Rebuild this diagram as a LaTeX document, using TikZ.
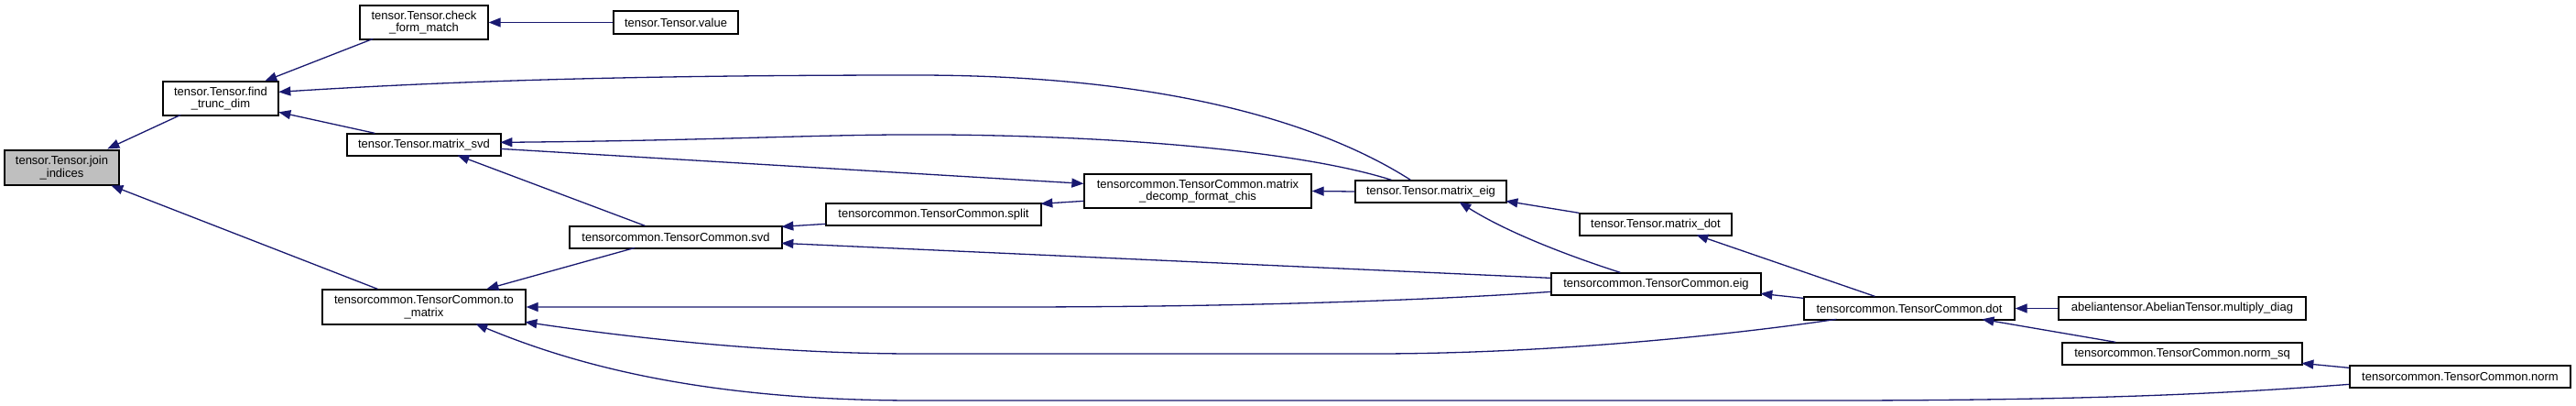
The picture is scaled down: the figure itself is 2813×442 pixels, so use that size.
\documentclass[tikz,border=0pt]{standalone}
\usepackage{fontspec}
\setmainfont{Liberation Sans}
\usetikzlibrary{arrows.meta,calc}
\definecolor{edgeblue}{HTML}{191970}
\definecolor{nodegray}{HTML}{BFBFBF}
\begin{document}
\begin{tikzpicture}[x=1pt,y=-1pt,
  box/.style={draw=black, line width=1.3pt, fill=white, inner sep=0pt, align=center,
              font=\fontsize{13}{13.5}\selectfont},
  edge/.style={draw=edgeblue, line width=1.3pt, {Triangle[length=13pt,width=10pt]}-}]
\fill[white] (0,0) rectangle (2813,442);
\useasboundingbox (0,0) rectangle (2813,442);

% nodes
\node[box, fill=nodegray, minimum width=125pt, minimum height=38pt] (join) at (67.5,183) {tensor.Tensor.join\\\_indices};
\node[box, minimum width=126pt, minimum height=37pt] (find) at (241,107.5) {tensor.Tensor.find\\\_trunc\_dim};
\node[box, minimum width=140pt, minimum height=37pt] (check) at (463,24.5) {tensor.Tensor.check\\\_form\_match};
\node[box, minimum width=136pt, minimum height=25pt] (value) at (738,24.5) {tensor.Tensor.value};
\node[box, minimum width=168pt, minimum height=24pt] (msvd) at (463,158) {tensor.Tensor.matrix\_svd};
\node[box, minimum width=222pt, minimum height=38pt] (tom) at (463,335) {tensorcommon.TensorCommon.to\\\_matrix};
\node[box, minimum width=232pt, minimum height=24pt] (svd) at (738,259) {tensorcommon.TensorCommon.svd};
\node[box, minimum width=235pt, minimum height=24pt] (split) at (1019.5,234) {tensorcommon.TensorCommon.split};
\node[box, minimum width=248pt, minimum height=37pt] (decomp) at (1308,208.5) {tensorcommon.TensorCommon.matrix\\\_decomp\_format\_chis};
\node[box, minimum width=165pt, minimum height=24pt] (meig) at (1562.5,209) {tensor.Tensor.matrix\_eig};
\node[box, minimum width=166pt, minimum height=24pt] (mdot) at (1808,245) {tensor.Tensor.matrix\_dot};
\node[box, minimum width=229pt, minimum height=24pt] (eig) at (1808.5,310) {tensorcommon.TensorCommon.eig};
\node[box, minimum width=230pt, minimum height=25pt] (dot) at (2085,336.5) {tensorcommon.TensorCommon.dot};
\node[box, minimum width=270pt, minimum height=25pt] (mdiag) at (2383,336.5) {abeliantensor.AbelianTensor.multiply\_diag};
\node[box, minimum width=262pt, minimum height=24pt] (nsq) at (2383,386) {tensorcommon.TensorCommon.norm\_sq};
\node[box, minimum width=241pt, minimum height=24pt] (norm) at (2686.5,411) {tensorcommon.TensorCommon.norm};

% edges (arrow at the start)
\draw[edge] ($(join.north west)+(113,-1)$) -- ($(find.north west)+(20,37)$);
\draw[edge] ($(join.north west)+(117,39)$) -- ($(tom.north west)+(61,0)$);
\draw[edge] ($(find.north west)+(112,0)$) -- ($(check.north west)+(15,37)$);
\draw[edge] ($(find.north west)+(127,12)$) .. controls (500,88) and (700,82) .. (1000,82)
   .. controls (1300,82) and (1460,145) .. ($(meig.north west)+(61,0)$);
\draw[edge] ($(find.north west)+(127,34)$) -- ($(msvd.north west)+(31,0)$);
\draw[edge] ($(msvd.north west)+(168,10)$) .. controls (800,153) and (900,146) .. (1030,147)
   .. controls (1250,149) and (1430,168) .. ($(meig.north west)+(40,0)$);
\draw[edge] ($(decomp.north west)+(0,11)$) -- ($(msvd.north west)+(168,17)$);
\draw[edge] ($(msvd.north west)+(121,24)$) -- ($(svd.north west)+(83,0)$);
\draw[edge] ($(svd.north west)+(232,1)$) -- ($(split.north west)+(0,23)$);
\draw[edge] ($(split.north west)+(235,1)$) -- ($(decomp.north west)+(0,30)$);
\draw[edge] (decomp.east) -- (meig.west);
\draw[edge] ($(svd.north west)+(232,19)$) -- ($(eig.north west)+(0,6)$);
\draw[edge] ($(tom.north west)+(180,0)$) -- ($(svd.north west)+(72,24)$);
\draw[edge] (tom.east) -- (1100,335) .. controls (1400,335) and (1600,325) .. ($(eig.north west)+(0,21)$);
\draw[edge] ($(tom.north west)+(222,36)$) .. controls (700,370) and (850,386) .. (1000,386)
   -- (1500,386) .. controls (1700,386) and (1900,364) .. ($(dot.north west)+(36,25)$);
\draw[edge] ($(tom.north west)+(168,38)$) .. controls (620,395) and (760,437) .. (1000,437)
   -- (2000,437) .. controls (2300,437) and (2450,428) .. ($(norm.north west)+(0,21)$);
\draw[edge] ($(meig.north west)+(114,24)$) .. controls (1640,250) and (1700,275) .. ($(eig.north west)+(76,0)$);
\draw[edge] ($(meig.north west)+(165,23)$) -- ($(mdot.north west)+(0,0)$);
\draw[edge] ($(mdot.north west)+(128,24)$) -- ($(dot.north west)+(78,0)$);
\draw[edge] ($(eig.north west)+(229,23)$) -- ($(dot.north west)+(0,2)$);
\draw[edge] (dot.east) -- (mdiag.west);
\draw[edge] ($(dot.north west)+(195,25)$) -- ($(nsq.north west)+(59,0)$);
\draw[edge] ($(nsq.north west)+(262,23)$) -- ($(norm.north west)+(0,3)$);
\draw[edge] (check.east) -- (value.west);
\end{tikzpicture}
\end{document}
